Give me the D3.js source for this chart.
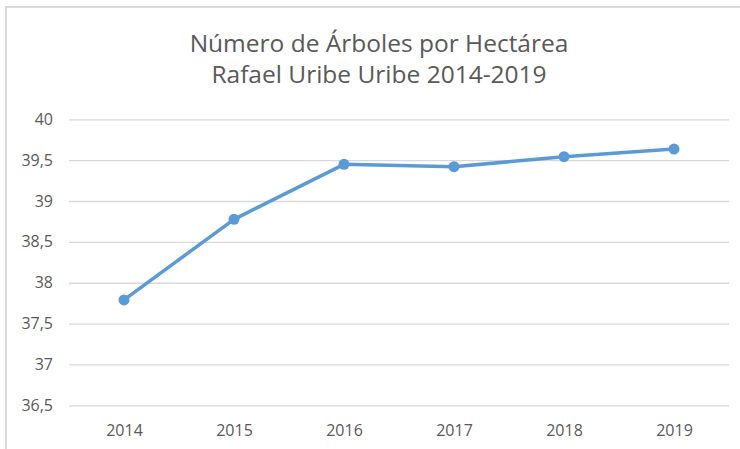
<!DOCTYPE html>
<html>
<head>
<meta charset="utf-8">
<script src="https://cdn.jsdelivr.net/npm/d3@7"></script>
<style>
  body { margin: 0; background: #fff; }
  text { font-family: "Open Sans", "Noto Sans", sans-serif; }
</style>
</head>
<body>
<div class="lineChart"></div>
<script>
// chart data
var years = ["2014", "2015", "2016", "2017", "2018", "2019"];
var arboles = [37.79, 38.776, 39.449, 39.42, 39.542, 39.636];
var yTicks = [36.5, 37, 37.5, 38, 38.5, 39, 39.5, 40];
var titleLines = ["Número de Árboles por Hectárea", "Rafael Uribe Uribe 2014-2019"];

var svgWidth = 740;
var svgHeight = 449;

var margin = { top: 119.3, right: 11, bottom: 43.7, left: 69 };
var width = svgWidth - margin.left - margin.right;
var height = svgHeight - margin.top - margin.bottom;

var svg = d3.select(".lineChart")
  .append("svg")
  .attr("width", svgWidth)
  .attr("height", svgHeight);

// chart border (only left/top visible in the crop)
svg.append("rect")
  .attr("x", 6)
  .attr("y", 7)
  .attr("width", 760)
  .attr("height", 460)
  .attr("fill", "none")
  .attr("stroke", "#d9d9d9")
  .attr("stroke-width", 2);

var chartGroup = svg.append("g")
  .attr("transform", `translate(${margin.left}, ${margin.top})`);

var xScale = d3.scalePoint()
  .domain(years)
  .range([0, width])
  .padding(0.5);

var yScale = d3.scaleLinear()
  .domain([36.5, 40])
  .range([height, 0]);

var fmt = d => String(d).replace(".", ",");

// gridlines
var leftAxis = d3.axisLeft(yScale)
  .tickValues(yTicks)
  .tickSize(-width)
  .tickPadding(16)
  .tickFormat(fmt);

var yAxis = chartGroup.append("g").call(leftAxis);
yAxis.select(".domain").remove();
yAxis.selectAll("line").attr("stroke", "#d9d9d9").attr("stroke-width", 1.3);
yAxis.selectAll("text")
  .attr("fill", "#595959")
  .style("font-size", "16px")
  .attr("x", -16);

var bottomAxis = d3.axisBottom(xScale).tickSize(0).tickPadding(19);
var xAxis = chartGroup.append("g")
  .attr("transform", `translate(0, ${height})`)
  .call(bottomAxis);
xAxis.select(".domain").remove();
xAxis.selectAll("text")
  .attr("fill", "#595959")
  .style("font-size", "16px");

// line + markers
var line = d3.line()
  .x((d, i) => xScale(years[i]))
  .y(d => yScale(d));

chartGroup.append("path")
  .datum(arboles)
  .attr("d", line)
  .attr("fill", "none")
  .attr("stroke", "#5b9bd5")
  .attr("stroke-width", 3.5)
  .attr("stroke-linejoin", "round");

chartGroup.selectAll("circle")
  .data(arboles)
  .enter()
  .append("circle")
  .attr("cx", (d, i) => xScale(years[i]))
  .attr("cy", d => yScale(d))
  .attr("r", 5.5)
  .attr("fill", "#5b9bd5");

// title
svg.append("g").selectAll("text")
  .data(titleLines)
  .enter()
  .append("text")
  .attr("x", 379)
  .attr("y", (d, i) => 52 + i * 31)
  .attr("text-anchor", "middle")
  .attr("fill", "#595959")
  .style("font-size", "24.5px")
  .text(d => d);
</script>
</body>
</html>
